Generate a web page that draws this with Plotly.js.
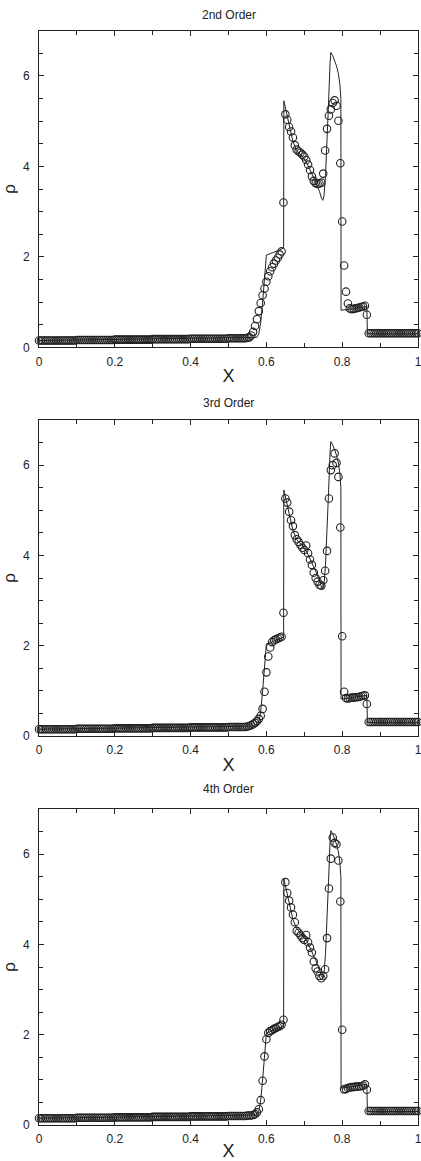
<!DOCTYPE html>
<html>
<head>
<meta charset="utf-8">
<script src="https://cdn.plot.ly/plotly-3.0.1.min.js"></script>
<style>
  html, body { margin: 0; padding: 0; background: #fff; }
  #chart { width: 421px; height: 1161px; }
</style>
</head>
<body>
<div id="chart"></div>
<script>
// Cell positions of the computed solution (200 cells, uniform spacing)
const cellX = [
  0, 0.005, 0.01, 0.015, 0.02, 0.025, 0.03, 0.035, 0.04, 0.045,
  0.05, 0.055, 0.06, 0.065, 0.07, 0.075, 0.08, 0.085, 0.09, 0.095,
  0.1, 0.105, 0.11, 0.115, 0.12, 0.125, 0.13, 0.135, 0.14, 0.145,
  0.15, 0.155, 0.16, 0.165, 0.17, 0.175, 0.18, 0.185, 0.19, 0.195,
  0.2, 0.205, 0.21, 0.215, 0.22, 0.225, 0.23, 0.235, 0.24, 0.245,
  0.25, 0.255, 0.26, 0.265, 0.27, 0.275, 0.28, 0.285, 0.29, 0.295,
  0.3, 0.305, 0.31, 0.315, 0.32, 0.325, 0.33, 0.335, 0.34, 0.345,
  0.35, 0.355, 0.36, 0.365, 0.37, 0.375, 0.38, 0.385, 0.39, 0.395,
  0.4, 0.405, 0.41, 0.415, 0.42, 0.425, 0.43, 0.435, 0.44, 0.445,
  0.45, 0.455, 0.46, 0.465, 0.47, 0.475, 0.48, 0.485, 0.49, 0.495,
  0.5, 0.505, 0.51, 0.515, 0.52, 0.525, 0.53, 0.535, 0.54, 0.545,
  0.55, 0.555, 0.56, 0.565, 0.57, 0.575, 0.58, 0.585, 0.59, 0.595,
  0.6, 0.605, 0.61, 0.615, 0.62, 0.625, 0.63, 0.635, 0.64, 0.645,
  0.65, 0.655, 0.66, 0.665, 0.67, 0.675, 0.68, 0.685, 0.69, 0.695,
  0.7, 0.705, 0.71, 0.715, 0.72, 0.725, 0.73, 0.735, 0.74, 0.745,
  0.75, 0.755, 0.76, 0.765, 0.77, 0.775, 0.78, 0.785, 0.79, 0.795,
  0.8, 0.805, 0.81, 0.815, 0.82, 0.825, 0.83, 0.835, 0.84, 0.845,
  0.85, 0.855, 0.86, 0.865, 0.87, 0.875, 0.88, 0.885, 0.89, 0.895,
  0.9, 0.905, 0.91, 0.915, 0.92, 0.925, 0.93, 0.935, 0.94, 0.945,
  0.95, 0.955, 0.96, 0.965, 0.97, 0.975, 0.98, 0.985, 0.99, 0.995,
  1
];

// Density from the 2nd-order scheme
const rho2nd = [
  0.15, 0.15, 0.15, 0.15, 0.15, 0.15, 0.15, 0.15, 0.15, 0.15,
  0.15, 0.15, 0.15, 0.15, 0.15, 0.15, 0.15, 0.15, 0.15, 0.15,
  0.16, 0.16, 0.16, 0.16, 0.16, 0.16, 0.16, 0.16, 0.16, 0.16,
  0.16, 0.16, 0.16, 0.16, 0.16, 0.16, 0.16, 0.16, 0.16, 0.16,
  0.17, 0.17, 0.17, 0.17, 0.17, 0.17, 0.17, 0.17, 0.17, 0.17,
  0.17, 0.17, 0.17, 0.17, 0.17, 0.17, 0.17, 0.17, 0.17, 0.17,
  0.18, 0.18, 0.18, 0.18, 0.18, 0.18, 0.18, 0.18, 0.18, 0.18,
  0.18, 0.18, 0.18, 0.18, 0.18, 0.18, 0.18, 0.18, 0.18, 0.18,
  0.19, 0.19, 0.19, 0.19, 0.19, 0.19, 0.19, 0.19, 0.19, 0.19,
  0.19, 0.19, 0.19, 0.19, 0.19, 0.19, 0.19, 0.19, 0.19, 0.19,
  0.2, 0.2, 0.2, 0.2, 0.2, 0.2, 0.2, 0.2, 0.2, 0.2,
  0.21, 0.22, 0.26, 0.34, 0.47, 0.62, 0.8, 0.98, 1.15, 1.3,
  1.45, 1.57, 1.68, 1.77, 1.85, 1.92, 1.98, 2.05, 2.12, 3.2,
  5.15, 5.03, 4.87, 4.77, 4.64, 4.47, 4.37, 4.33, 4.3, 4.26,
  4.22, 4.14, 4.04, 3.92, 3.78, 3.68, 3.63, 3.61, 3.62, 3.64,
  3.84, 4.35, 4.83, 5.12, 5.26, 5.4, 5.46, 5.34, 5.01, 4.07,
  2.78, 1.81, 1.23, 0.97, 0.86, 0.84, 0.85, 0.86, 0.87, 0.88,
  0.89, 0.9, 0.92, 0.72, 0.31, 0.31, 0.31, 0.31, 0.31, 0.31,
  0.31, 0.31, 0.31, 0.31, 0.31, 0.31, 0.31, 0.31, 0.31, 0.31,
  0.31, 0.31, 0.31, 0.31, 0.31, 0.31, 0.31, 0.31, 0.31, 0.31,
  0.31
];

// Density from the 3rd-order scheme
const rho3rd = [
  0.15, 0.15, 0.15, 0.15, 0.15, 0.15, 0.15, 0.15, 0.15, 0.15,
  0.15, 0.15, 0.15, 0.15, 0.15, 0.15, 0.15, 0.15, 0.15, 0.15,
  0.16, 0.16, 0.16, 0.16, 0.16, 0.16, 0.16, 0.16, 0.16, 0.16,
  0.16, 0.16, 0.16, 0.16, 0.16, 0.16, 0.16, 0.16, 0.16, 0.16,
  0.17, 0.17, 0.17, 0.17, 0.17, 0.17, 0.17, 0.17, 0.17, 0.17,
  0.17, 0.17, 0.17, 0.17, 0.17, 0.17, 0.17, 0.17, 0.17, 0.17,
  0.18, 0.18, 0.18, 0.18, 0.18, 0.18, 0.18, 0.18, 0.18, 0.18,
  0.18, 0.18, 0.18, 0.18, 0.18, 0.18, 0.18, 0.18, 0.18, 0.18,
  0.19, 0.19, 0.19, 0.19, 0.19, 0.19, 0.19, 0.19, 0.19, 0.19,
  0.19, 0.19, 0.19, 0.19, 0.19, 0.19, 0.19, 0.19, 0.19, 0.19,
  0.2, 0.2, 0.2, 0.2, 0.2, 0.2, 0.2, 0.2, 0.2, 0.2,
  0.21, 0.22, 0.24, 0.26, 0.29, 0.33, 0.38, 0.45, 0.6, 0.98,
  1.41, 1.76, 1.96, 2.08, 2.12, 2.14, 2.16, 2.18, 2.2, 2.73,
  5.26, 5.17, 4.97, 4.78, 4.65, 4.45, 4.36, 4.3, 4.23, 4.17,
  4.12, 4.22, 4.05, 3.91, 3.79, 3.62, 3.5, 3.42, 3.35, 3.33,
  3.45, 3.66, 4.1, 5.26, 5.89, 6.0, 6.26, 6.05, 5.74, 4.62,
  2.21, 0.98, 0.84, 0.83, 0.84, 0.85, 0.85, 0.86, 0.86, 0.87,
  0.88, 0.89, 0.9, 0.71, 0.31, 0.31, 0.31, 0.31, 0.31, 0.31,
  0.31, 0.31, 0.31, 0.31, 0.31, 0.31, 0.31, 0.31, 0.31, 0.31,
  0.31, 0.31, 0.31, 0.31, 0.31, 0.31, 0.31, 0.31, 0.31, 0.31,
  0.31
];

// Density from the 4th-order scheme
const rho4th = [
  0.15, 0.15, 0.15, 0.15, 0.15, 0.15, 0.15, 0.15, 0.15, 0.15,
  0.15, 0.15, 0.15, 0.15, 0.15, 0.15, 0.15, 0.15, 0.15, 0.15,
  0.16, 0.16, 0.16, 0.16, 0.16, 0.16, 0.16, 0.16, 0.16, 0.16,
  0.16, 0.16, 0.16, 0.16, 0.16, 0.16, 0.16, 0.16, 0.16, 0.16,
  0.17, 0.17, 0.17, 0.17, 0.17, 0.17, 0.17, 0.17, 0.17, 0.17,
  0.17, 0.17, 0.17, 0.17, 0.17, 0.17, 0.17, 0.17, 0.17, 0.17,
  0.18, 0.18, 0.18, 0.18, 0.18, 0.18, 0.18, 0.18, 0.18, 0.18,
  0.18, 0.18, 0.18, 0.18, 0.18, 0.18, 0.18, 0.18, 0.18, 0.18,
  0.19, 0.19, 0.19, 0.19, 0.19, 0.19, 0.19, 0.19, 0.19, 0.19,
  0.19, 0.19, 0.19, 0.19, 0.19, 0.19, 0.19, 0.19, 0.19, 0.19,
  0.2, 0.2, 0.2, 0.2, 0.2, 0.2, 0.2, 0.2, 0.2, 0.2,
  0.21, 0.21, 0.21, 0.22, 0.24, 0.28, 0.35, 0.55, 0.98, 1.52,
  1.9, 2.04, 2.08, 2.1, 2.13, 2.15, 2.17, 2.19, 2.22, 2.33,
  5.38, 5.14, 4.97, 4.82, 4.66, 4.49, 4.3, 4.26, 4.2, 4.14,
  4.1, 4.21, 4.05, 3.93, 3.82, 3.62, 3.47, 3.4, 3.3, 3.25,
  3.3, 3.45, 4.14, 5.24, 5.9, 6.37, 6.25, 6.22, 5.86, 4.95,
  2.11, 0.79, 0.8, 0.82, 0.83, 0.84, 0.84, 0.85, 0.85, 0.86,
  0.86, 0.87, 0.9, 0.78, 0.31, 0.31, 0.31, 0.31, 0.31, 0.31,
  0.31, 0.31, 0.31, 0.31, 0.31, 0.31, 0.31, 0.31, 0.31, 0.31,
  0.31, 0.31, 0.31, 0.31, 0.31, 0.31, 0.31, 0.31, 0.31, 0.31,
  0.31
];

// Fine-grid reference solution
const refX = [
  0, 0.1, 0.2, 0.3, 0.4, 0.5, 0.55, 0.575, 0.58, 0.585,
  0.59, 0.595, 0.599, 0.6, 0.61, 0.62, 0.63, 0.64, 0.6455, 0.646,
  0.648, 0.655, 0.66, 0.67, 0.68, 0.69, 0.7, 0.71, 0.72, 0.73,
  0.74, 0.745, 0.749, 0.752, 0.756, 0.76, 0.764, 0.768, 0.77, 0.775,
  0.78, 0.785, 0.79, 0.794, 0.7965, 0.797, 0.81, 0.83, 0.85, 0.865,
  0.8665, 1
];
const refRho = [
  0.15, 0.16, 0.17, 0.18, 0.19, 0.2, 0.21, 0.22, 0.3, 0.55,
  1.0, 1.5, 2.0, 2.04, 2.07, 2.1, 2.13, 2.17, 2.2, 5.45,
  5.38, 5.1, 4.9, 4.55, 4.35, 4.27, 4.17, 4.02, 3.85, 3.65,
  3.45, 3.3, 3.25, 3.35, 3.8, 4.5, 5.4, 6.3, 6.52, 6.45,
  6.35, 6.22, 6.05, 5.8, 5.5, 0.82, 0.83, 0.85, 0.88, 0.9,
  0.3, 0.3
];

const panelTitles = ["2nd Order", "3rd Order", "4th Order"];
const xTickVals = [0, 0.2, 0.4, 0.6, 0.8, 1];
const xTickText = ["0", "0.2", "0.4", "0.6", "0.8", "1"];
const yTickVals = [0, 2, 4, 6];
const yTickText = ["0", "2", "4", "6"];

const schemes = [rho2nd, rho3rd, rho4th];

const H = 1161;
// panel plot areas in page pixels: [top, bottom]
const panelPx = [[30.7, 347.3], [420, 736], [809, 1125]];
const titlePx = [15, 403, 789];

const ink = "#222222";
const font = "Liberation Sans, Arial, Helvetica, sans-serif";

const traces = [];
const layout = {
  width: 421,
  height: H,
  margin: { l: 39, r: 3, t: 0, b: 0 },
  paper_bgcolor: "#ffffff",
  plot_bgcolor: "#ffffff",
  showlegend: false,
  font: { family: font, size: 12, color: ink },
  annotations: []
};

schemes.forEach((rho, k) => {
  const n = k === 0 ? "" : String(k + 1);
  const xa = "x" + n, ya = "y" + n;
  traces.push({
    x: refX, y: refRho, xaxis: xa, yaxis: ya,
    type: "scatter", mode: "lines",
    line: { color: ink, width: 1 },
    hoverinfo: "skip"
  });
  traces.push({
    x: cellX, y: rho, xaxis: xa, yaxis: ya,
    type: "scatter", mode: "markers", cliponaxis: false,
    marker: { symbol: "circle-open", size: 7.5, color: ink, line: { width: 1.1, color: ink } }
  });

  const [top, bot] = panelPx[k];
  const axisCommon = {
    showline: true, linecolor: ink, linewidth: 1, mirror: "ticks",
    ticks: "inside", ticklen: 5, tickwidth: 1, tickcolor: ink,
    showgrid: false, zeroline: false, fixedrange: true,
    ticklabeloverflow: "allow",
    tickfont: { family: font, size: 12, color: ink }
  };
  layout["xaxis" + n] = Object.assign({}, axisCommon, {
    domain: [0, 1], range: [0, 1], anchor: ya,
    tickmode: "array", tickvals: xTickVals, ticktext: xTickText,
    ticklabelstandoff: 3,
    minor: { dtick: 0.1, tick0: 0, ticks: "inside", ticklen: 4, tickcolor: ink },
    title: { text: "X", font: { family: font, size: 18, color: ink }, standoff: 1 }
  });
  layout["yaxis" + n] = Object.assign({}, axisCommon, {
    domain: [(H - bot) / H, (H - top) / H], range: [0, 7], anchor: xa,
    tickmode: "array", tickvals: yTickVals, ticktext: yTickText,
    ticklabelstandoff: 6,
    minor: { dtick: 0.5, tick0: 0, ticks: "inside", ticklen: 4, tickcolor: ink },
    title: { text: "ρ", font: { family: font, size: 17, color: ink }, standoff: 3 }
  });
  layout.annotations.push({
    text: panelTitles[k], xref: "paper", yref: "paper",
    x: 0.5, y: (H - titlePx[k]) / H, xanchor: "center", yanchor: "middle",
    showarrow: false, font: { family: font, size: 12, color: ink }
  });
});

Plotly.newPlot("chart", traces, layout, { displayModeBar: false, staticPlot: true });
</script>
</body>
</html>
